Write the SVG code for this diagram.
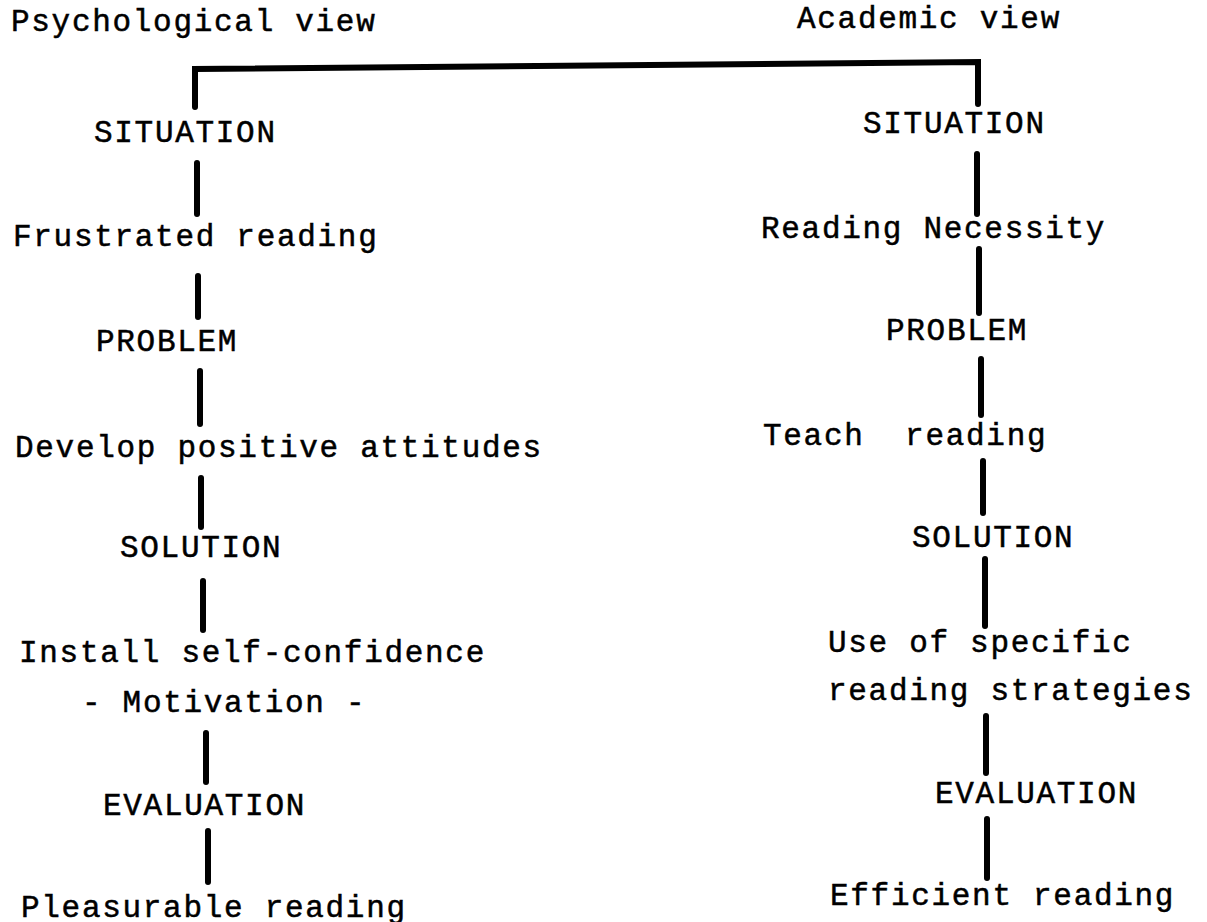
<svg xmlns="http://www.w3.org/2000/svg" width="1207" height="922" viewBox="0 0 1207 922">
<style>
text{font-family:"Liberation Mono","DejaVu Sans Mono",monospace;font-size:31px;letter-spacing:1.7px;fill:#000;stroke:#000;stroke-width:0.5px;white-space:pre}
.c line,.c path{stroke:#000;stroke-width:6;stroke-linecap:round;fill:none}
</style>
<rect width="1207" height="922" fill="#fff"/>
<g class="c" id="connectors">
<path d="M195 107 L195 69 L978 62 L978 104" stroke-width="5"/>
<line x1="197" y1="163" x2="197" y2="214"/>
<line x1="198" y1="276" x2="198" y2="317"/>
<line x1="200" y1="371" x2="200" y2="424"/>
<line x1="201" y1="478" x2="201" y2="527"/>
<line x1="203" y1="581" x2="203" y2="630"/>
<line x1="206" y1="733" x2="206" y2="782"/>
<line x1="208" y1="831" x2="208" y2="882"/>
<line x1="977" y1="154" x2="977" y2="214"/>
<line x1="979" y1="249" x2="979" y2="313"/>
<line x1="981" y1="359" x2="981" y2="415"/>
<line x1="983" y1="461" x2="983" y2="513"/>
<line x1="985" y1="559" x2="985" y2="626"/>
<line x1="986" y1="716" x2="986" y2="773"/>
<line x1="987" y1="819" x2="987" y2="878"/>
</g>
<g id="left-title"><text x="11" y="31">Psychological view</text></g>
<g id="right-title"><text x="797" y="28">Academic view</text></g>
<g id="l-situation"><text x="94" y="142">SITUATION</text></g>
<g id="l-frustrated"><text x="13" y="246">Frustrated reading</text></g>
<g id="l-problem"><text x="96" y="351">PROBLEM</text></g>
<g id="l-develop"><text x="15" y="457">Develop positive attitudes</text></g>
<g id="l-solution"><text x="120" y="557">SOLUTION</text></g>
<g id="l-install"><text x="19" y="662">Install self-confidence</text><text x="82" y="712">- Motivation -</text></g>
<g id="l-evaluation"><text x="103" y="815">EVALUATION</text></g>
<g id="l-pleasurable"><text x="21" y="917">Pleasurable reading</text></g>
<g id="r-situation"><text x="863" y="133">SITUATION</text></g>
<g id="r-necessity"><text x="761" y="238">Reading Necessity</text></g>
<g id="r-problem"><text x="886" y="340">PROBLEM</text></g>
<g id="r-teach"><text x="763" y="445">Teach  reading</text></g>
<g id="r-solution"><text x="912" y="547">SOLUTION</text></g>
<g id="r-use"><text x="828" y="652">Use of specific</text><text x="828" y="700">reading strategies</text></g>
<g id="r-evaluation"><text x="935" y="803">EVALUATION</text></g>
<g id="r-efficient"><text x="830" y="905">Efficient reading</text></g>
</svg>
